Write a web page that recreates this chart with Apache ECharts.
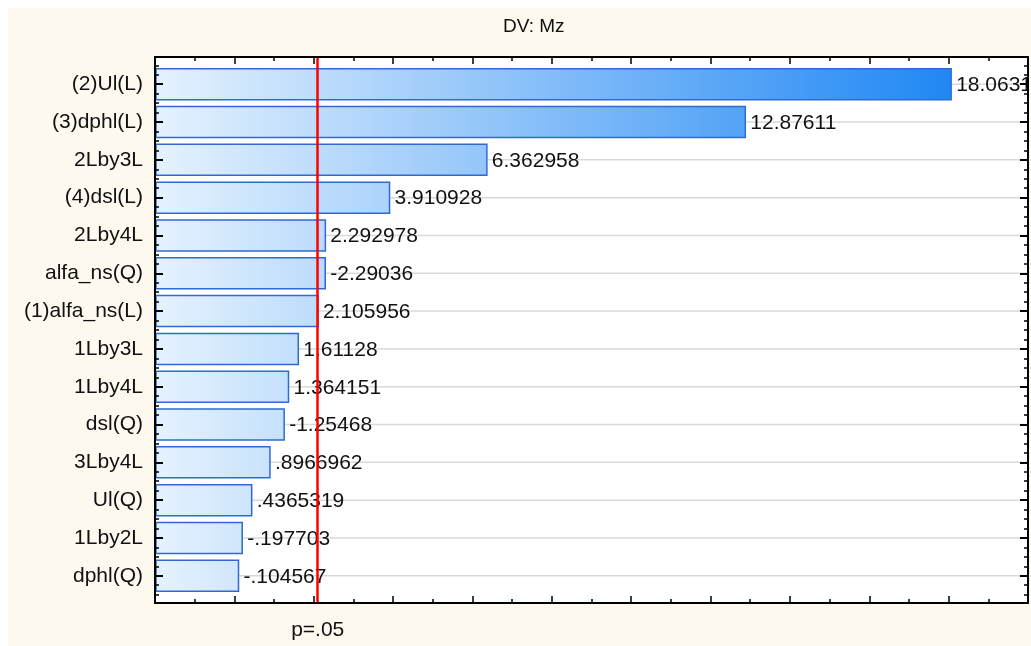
<!DOCTYPE html>
<html>
<head>
<meta charset="utf-8">
<script src="https://cdn.jsdelivr.net/npm/echarts@6/dist/echarts.min.js"></script>
<style>
  html, body { margin: 0; padding: 0; background: #ffffff; }
  #chart { position: absolute; left: 8px; top: 8px; width: 1023px; height: 638px; }
</style>
</head>
<body>
<div id="chart"></div>
<script>
// Pareto chart of standardized effects, dependent variable Mz
const titleText = 'DV: Mz';
const categories = ['(2)Ul(L)', '(3)dphl(L)', '2Lby3L', '(4)dsl(L)', '2Lby4L', 'alfa_ns(Q)',
  '(1)alfa_ns(L)', '1Lby3L', '1Lby4L', 'dsl(Q)', '3Lby4L', 'Ul(Q)', '1Lby2L', 'dphl(Q)'];
const effects = [18.0631, 12.87611, 6.362958, 3.910928, 2.292978, -2.29036, 2.105956,
  1.61128, 1.364151, -1.25468, 0.8966962, 0.4365319, -0.197703, -0.104567];
const pCritical = 2.1009;          // t critical value, p = .05
const pLabel = 'p=.05';
const xMin = -2, xMax = 20, xStep = 2;

const FONT = '"Liberation Sans", Arial, sans-serif';
const TEXT_SIZE = 21;

// Statistica-style number text: 7 significant digits, no leading zero
function fmt(v) {
  let s = String(Number(v.toPrecision(7)));
  return s.replace(/^(-?)0\./, '$1.');
}

const centerTicks = categories.map((_, i) => i);
const quarterTicks = [];
for (let q = -0.5; q <= categories.length - 0.5 + 1e-9; q += 0.25) {
  if (Math.abs(q - Math.round(q)) > 1e-6) quarterTicks.push(q);
}

const chart = echarts.init(document.getElementById('chart'), null, { renderer: 'canvas' });

const axisBlack = { show: true, onZero: false, lineStyle: { color: '#000', width: 2 } };
const noLine = { show: false, onZero: false };
const yRange = { type: 'value', inverse: true, z: 10, min: -0.72, max: categories.length - 1 + 0.72 };

const option = {
  backgroundColor: '#fef9ee',
  animation: false,
  title: {
    text: titleText, left: 495, top: 9, padding: 0,
    textStyle: { fontFamily: FONT, fontSize: 19, fontWeight: 'normal', color: '#111' }
  },
  grid: {
    left: 147, right: 3, top: 49, bottom: 43,
    show: true, backgroundColor: '#ffffff', borderWidth: 0
  },
  xAxis: [
    {
      type: 'value', min: xMin, max: xMax, interval: xStep, position: 'bottom', z: 10,
      axisLine: axisBlack,
      axisTick: { inside: true, length: 7, lineStyle: { color: '#000', width: 1.5 } },
      minorTick: { show: true, splitNumber: 2, length: 4, lineStyle: { color: '#000', width: 1.5 } },
      axisLabel: {
        customValues: [pCritical], formatter: () => pLabel, margin: 17,
        fontFamily: FONT, fontSize: TEXT_SIZE, color: '#111'
      },
      splitLine: { show: false }
    },
    {
      type: 'value', min: xMin, max: xMax, interval: xStep, position: 'top', z: 10,
      axisLine: axisBlack,
      axisTick: { inside: true, length: 7, lineStyle: { color: '#000', width: 1.5 } },
      minorTick: { show: true, splitNumber: 2, length: 4, lineStyle: { color: '#000', width: 1.5 } },
      axisLabel: { show: false },
      splitLine: { show: false }
    }
  ],
  yAxis: [
    Object.assign({}, yRange, {
      position: 'left',
      axisLine: axisBlack,
      axisTick: { customValues: centerTicks, inside: true, length: 8, lineStyle: { color: '#000', width: 2 } },
      axisLabel: {
        customValues: centerTicks, formatter: v => categories[Math.round(v)], margin: 12,
        fontFamily: FONT, fontSize: TEXT_SIZE, color: '#111'
      },
      splitLine: { show: false }
    }),
    Object.assign({}, yRange, {
      position: 'left',
      axisLine: noLine,
      axisTick: { customValues: quarterTicks, inside: true, length: 4, lineStyle: { color: '#000', width: 1.5 } },
      axisLabel: { show: false },
      splitLine: { show: false }
    }),
    Object.assign({}, yRange, {
      position: 'right',
      axisLine: axisBlack,
      axisTick: { customValues: centerTicks, inside: true, length: 8, lineStyle: { color: '#000', width: 2 } },
      axisLabel: { show: false },
      splitLine: { show: false }
    }),
    Object.assign({}, yRange, {
      position: 'right',
      axisLine: noLine,
      axisTick: { customValues: quarterTicks, inside: true, length: 4, lineStyle: { color: '#000', width: 1.5 } },
      axisLabel: { show: false },
      splitLine: { show: false }
    })
  ],
  series: [
    {
      type: 'custom',
      xAxisIndex: 0,
      yAxisIndex: 0,
      clip: true,
      data: effects.map((v, i) => [Math.abs(v), i, v]),
      encode: { x: 0, y: 1 },
      renderItem: function (params, api) {
        const cs = params.coordSys;
        const idx = api.value(1);
        const end = api.coord([api.value(0), idx]);
        const start = api.coord([xMin, idx]);
        const h = api.size([0, 1])[1] * 0.82;
        const grad = new echarts.graphic.LinearGradient(cs.x, 0, cs.x + cs.width, 0, [
          { offset: 0, color: '#e6f2fe' },
          { offset: 1, color: '#0d7df3' }
        ], true);
        return {
          type: 'group',
          children: [
            {
              type: 'line',
              shape: { x1: cs.x, y1: end[1], x2: cs.x + cs.width, y2: end[1] },
              style: { stroke: '#d9d9d9', lineWidth: 1.5 }
            },
            {
              type: 'rect',
              shape: { x: start[0] + 1, y: end[1] - h / 2, width: end[0] - start[0] - 1, height: h },
              style: { fill: grad, stroke: '#2d6bd3', lineWidth: 1.5 }
            },
            {
              type: 'text',
              style: {
                x: end[0] + 5, y: end[1] + 1, text: fmt(api.value(2)),
                align: 'left', verticalAlign: 'middle',
                font: TEXT_SIZE + 'px ' + FONT, fill: '#111'
              }
            }
          ]
        };
      },
      markLine: {
        silent: true,
        symbol: ['none', 'none'],
        label: { show: false },
        lineStyle: { color: '#ff0000', width: 2.5, type: 'solid' },
        data: [{ xAxis: pCritical }]
      }
    }
  ]
};

chart.setOption(option);
</script>
</body>
</html>
